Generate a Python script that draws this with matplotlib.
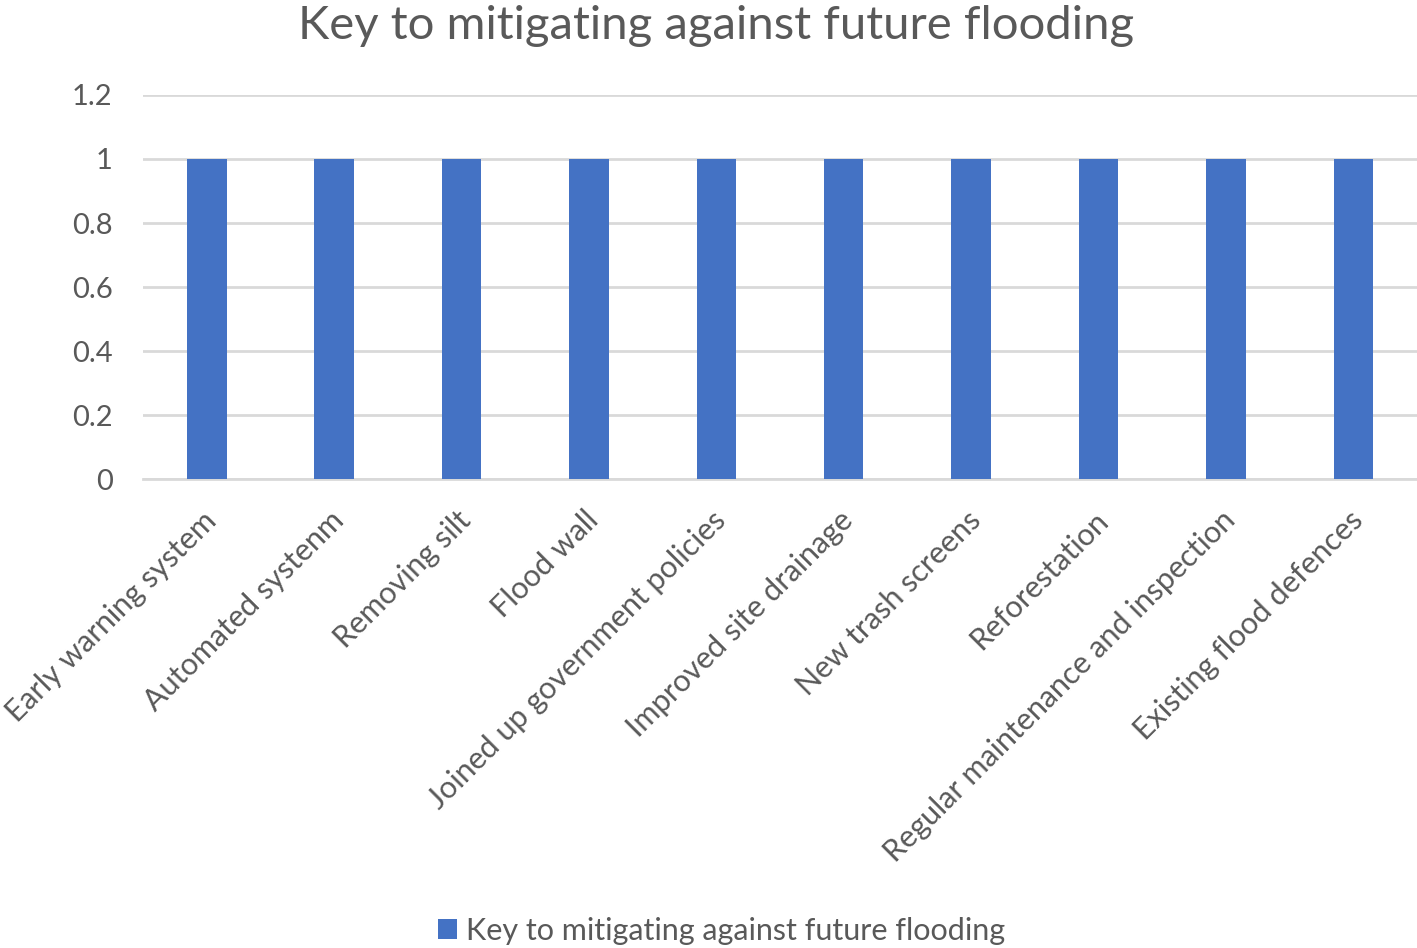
import matplotlib.pyplot as plt
import matplotlib.transforms as mtransforms
import numpy as np

plt.rcParams['font.family'] = ['Lato', 'DejaVu Sans']

categories = ["Early warning system", "Automated systenm", "Removing silt", "Flood wall",
              "Joined up government policies", "Improved site drainage", "New trash screens",
              "Reforestation", "Regular maintenance and inspection", "Existing flood defences"]
values = [1, 1, 1, 1, 1, 1, 1, 1, 1, 1]
series_name = "Key to mitigating against future flooding"
yticks = [0, 0.2, 0.4, 0.6, 0.8, 1, 1.2]
ytick_labels = ["0", "0.2", "0.4", "0.6", "0.8", "1", "1.2"]

text_color = "#595959"
grid_color = "#D9D9D9"

fig = plt.figure(figsize=(14.17, 9.48), dpi=100)
ax = fig.add_axes([0.101, 0.4947, 0.899, 0.4051])

x = np.arange(len(categories))
ax.bar(x, values, width=0.31, color="#4472C4", label=series_name, zorder=3)

ax.set_xlim(-0.5, len(categories) - 0.5)
ax.set_ylim(0, 1.2)
ax.set_yticks(yticks)
ax.set_yticklabels(ytick_labels)
ax.yaxis.grid(True, color=grid_color, linewidth=2, zorder=0)
ax.set_axisbelow(True)

for s in ["top", "right", "left"]:
    ax.spines[s].set_visible(False)
ax.spines["bottom"].set_color(grid_color)
ax.spines["bottom"].set_linewidth(2)

ax.tick_params(axis="y", length=0, pad=22, labelsize=21, labelcolor=text_color)
ax.tick_params(axis="x", length=0, pad=18, labelsize=22, labelcolor=text_color)
ax.set_xticks(x)
ax.set_xticklabels(categories, rotation=45, ha="right", va="top", rotation_mode="anchor")
# nudge the slanted labels a little to the left
shift = mtransforms.ScaledTranslation(-5 / 100, -2 / 100, fig.dpi_scale_trans)
for lbl in ax.get_xticklabels():
    lbl.set_transform(lbl.get_transform() + shift)

fig.suptitle(series_name, fontsize=34, color=text_color, x=0.505, y=0.995, va="top")

fig.legend(loc="lower center", bbox_to_anchor=(0.509, -0.026), frameon=False,
           fontsize=22, labelcolor=text_color, handlelength=0.62, handleheight=0.62,
           handletextpad=0.3)

fig.savefig("out.png", dpi=100)
